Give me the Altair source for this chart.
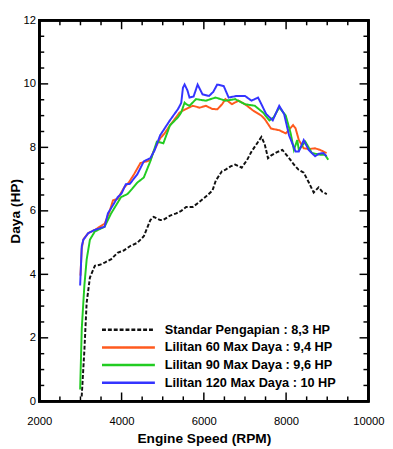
import altair as alt
import pandas as pd

series_names = [
    "Standar Pengapian : 8,3 HP",
    "Lilitan 60 Max Daya : 9,4 HP",
    "Lilitan 90 Max Daya : 9,6 HP",
    "Lilitan 120 Max Daya : 10 HP",
]
series_colors = ["#111111", "#FF5A1E", "#22CC22", "#3434FF"]
series_dashes = [[4, 2], [1, 0], [1, 0], [1, 0]]

rpm_std = [3030, 3095, 3150, 3230, 3350, 3470, 3590, 3750, 3900, 4050, 4220, 4380, 4540, 4700, 4780,
           4940, 5020, 5180, 5330, 5450, 5570, 5730, 5890, 6050, 6210, 6290, 6440, 6530, 6650, 6760,
           6920, 7050, 7160, 7280, 7400, 7480, 7560, 7640, 7780, 7910, 8050, 8190, 8300, 8430, 8550,
           8670, 8790, 8880, 8990]
hp_std = [0.15, 1.6, 3.1, 3.9, 4.27, 4.3, 4.37, 4.48, 4.68, 4.75, 4.9, 4.99, 5.2, 5.71, 5.81,
          5.71, 5.72, 5.85, 5.92, 6.0, 6.12, 6.12, 6.28, 6.45, 6.64, 6.95, 7.25, 7.3, 7.4, 7.46,
          7.36, 7.6, 7.87, 8.1, 8.33, 8.1, 7.66, 7.75, 7.85, 7.92, 7.7, 7.46, 7.3, 7.2, 6.9,
          6.58, 6.74, 6.6, 6.53]

rpm_60 = [3000, 3030, 3070, 3190, 3350, 3590, 3700, 3790, 3905, 4064, 4180, 4302, 4460, 4619, 4700,
          4778, 4937, 5050, 5175, 5413, 5492, 5570, 5730, 5900, 6048, 6206, 6330, 6444, 6524, 6683,
          6841, 7000, 7198, 7397, 7476, 7635, 7833, 7992, 8170, 8230, 8310, 8429, 8560, 8706, 8825,
          8984]
hp_60 = [3.96, 4.8, 5.1, 5.3, 5.4, 5.6, 5.95, 6.33, 6.38, 6.74, 6.9, 7.15, 7.51, 7.56, 7.6,
         7.87, 8.28, 8.45, 8.69, 9.1, 9.16, 9.21, 9.31, 9.25, 9.31, 9.21, 9.2, 9.36, 9.52, 9.36,
         9.47, 9.36, 9.16, 9.0, 8.9, 8.59, 8.54, 8.44, 8.7, 8.6, 8.23, 7.97, 7.95, 7.97, 7.92,
         7.82]

rpm_90 = [2992, 3032, 3095, 3151, 3230, 3349, 3587, 3746, 3984, 4143, 4260, 4381, 4540, 4698, 4857,
          5016, 5175, 5373, 5450, 5532, 5571, 5651, 5810, 6048, 6286, 6524, 6762, 7000, 7238, 7436,
          7595, 7700, 7833, 7992, 8111, 8190, 8270, 8310, 8468, 8627, 8825, 8944, 9024]
hp_90 = [0.37, 2.3, 3.65, 4.47, 5.09, 5.35, 5.5, 5.92, 6.43, 6.53, 6.7, 6.89, 7.05, 7.56, 8.18,
         8.13, 8.69, 8.95, 9.1, 9.41, 9.36, 9.31, 9.52, 9.47, 9.57, 9.47, 9.52, 9.36, 9.31, 9.1,
         8.85, 8.95, 9.26, 9.0, 8.44, 7.92, 8.23, 7.92, 8.18, 7.82, 7.77, 7.77, 7.61]

rpm_120 = [2992, 3032, 3071, 3190, 3349, 3587, 3667, 3800, 3905, 4000, 4103, 4200, 4381, 4540, 4698,
           4800, 4937, 5175, 5373, 5450, 5492, 5532, 5600, 5651, 5750, 5849, 5968, 6127, 6230, 6325,
           6484, 6603, 6802, 7000, 7159, 7317, 7357, 7516, 7675, 7833, 7952, 8071, 8230, 8310, 8429,
           8548, 8706, 8800, 8905, 8984]
hp_120 = [3.65, 4.89, 5.09, 5.3, 5.4, 5.5, 5.92, 6.2, 6.43, 6.55, 6.84, 6.85, 7.15, 7.56, 7.66,
          7.9, 8.38, 8.85, 9.21, 9.4, 9.88, 9.98, 9.8, 9.57, 9.6, 9.98, 9.67, 9.62, 9.75, 9.98,
          9.93, 9.57, 9.62, 9.62, 9.47, 9.57, 9.47, 9.05, 8.85, 9.31, 9.05, 8.38, 7.87, 7.87, 8.23,
          7.92, 7.72, 7.8, 7.82, 7.72]

x_major = [2000, 4000, 6000, 8000, 10000]
x_minor = [2500, 3000, 3500, 4500, 5000, 5500, 6500, 7000, 7500, 8500, 9000, 9500]
y_major = [0, 2, 4, 6, 8, 10, 12]
y_minor = [0.5, 1, 1.5, 2.5, 3, 3.5, 4.5, 5, 5.5, 6.5, 7, 7.5, 8.5, 9, 9.5, 10.5, 11, 11.5]

W, H = 336, 389
FONT = "Liberation Sans, Arial, sans-serif"

rows = []
for name, xs_, ys_ in zip(series_names, [rpm_std, rpm_60, rpm_90, rpm_120],
                          [hp_std, hp_60, hp_90, hp_120]):
    for i, (a, b) in enumerate(zip(xs_, ys_)):
        rows.append({"series": name, "rpm": a, "hp": b, "order": i})
df = pd.DataFrame(rows)
legend_df = pd.DataFrame({"series": series_names, "row": list(range(len(series_names)))})

xs = alt.Scale(domain=[2000, 10000], nice=False)
ys = alt.Scale(domain=[0, 12], nice=False)
color_scale = alt.Scale(domain=series_names, range=series_colors)
dash_scale = alt.Scale(domain=series_names, range=series_dashes)

x_axis = alt.Axis(title="Engine Speed (RPM)", values=x_major, format="d",
                  ticks=False, domain=False, grid=False, labelPadding=15, labelFlush=False,
                  labelFontSize=11.5, labelFont=FONT, labelColor="black",
                  titleFont=FONT, titleFontSize=14, titleFontWeight="bold",
                  titleColor="black", titlePadding=5)

lines = alt.Chart(df).mark_line(strokeWidth=2, clip=True).encode(
    x=alt.X("rpm:Q", scale=xs, axis=x_axis),
    y=alt.Y("hp:Q", scale=ys,
            axis=alt.Axis(title="Daya (HP)", values=y_major, ticks=False, domain=False,
                          grid=False, labelPadding=4, labelFlush=False, labelFontSize=11.5,
                          labelFont=FONT, labelColor="black", titleFont=FONT,
                          titleFontSize=14, titleFontWeight="bold", titleColor="black",
                          titlePadding=0)),
    color=alt.Color("series:N", scale=color_scale, legend=None),
    strokeDash=alt.StrokeDash("series:N", scale=dash_scale, legend=None),
    order="order:Q",
)

# legend drawn as its own small layer (rows laid out by an independent y scale)
leg_y = alt.Y("row:Q", scale=alt.Scale(domain=[0, 3], range=[316, 370]), axis=None)
leg_lines = alt.Chart(legend_df).mark_rule(strokeWidth=2.5).encode(
    y=leg_y, x=alt.value(64), x2=alt.value(118),
    color=alt.Color("series:N", scale=color_scale, legend=None),
    strokeDash=alt.StrokeDash("series:N", scale=dash_scale, legend=None),
)
leg_text = alt.Chart(legend_df).mark_text(
    align="left", baseline="middle", font=FONT, fontSize=13, fontWeight="bold",
    color="black").encode(y=leg_y, x=alt.value(128), text="series:N")

# plot frame
frame = alt.Chart(legend_df).mark_rect(fill=None, stroke="black", strokeWidth=2.5).encode(
    x=alt.value(0), x2=alt.value(W), y=alt.value(0), y2=alt.value(H))

xmaj = pd.DataFrame({"v": x_major})
xmin = pd.DataFrame({"v": x_minor})
ymaj = pd.DataFrame({"v": y_major})
ymin = pd.DataFrame({"v": y_minor})

def xticks(d, L):
    b = alt.Chart(d).mark_rule(color="black", strokeWidth=1.5).encode(
        x=alt.X("v:Q", scale=xs, axis=x_axis), y=alt.value(H), y2=alt.value(H - L))
    t = alt.Chart(d).mark_rule(color="black", strokeWidth=1.5).encode(
        x=alt.X("v:Q", scale=xs, axis=x_axis), y=alt.value(0), y2=alt.value(L))
    return [b, t]

def yticks(d, L):
    l = alt.Chart(d).mark_rule(color="black", strokeWidth=1.5).encode(
        y=alt.Y("v:Q", scale=ys, axis=None), x=alt.value(0), x2=alt.value(L))
    r = alt.Chart(d).mark_rule(color="black", strokeWidth=1.5).encode(
        y=alt.Y("v:Q", scale=ys, axis=None), x=alt.value(W), x2=alt.value(W - L))
    return [l, r]

layers = xticks(xmaj, 9) + xticks(xmin, 5) + yticks(ymaj, 9) + yticks(ymin, 5) + \
    [lines, leg_lines, leg_text, frame]

chart = alt.layer(*layers).resolve_scale(y="independent").properties(
    width=W, height=H,
    autosize=alt.AutoSizeParams(type="none"),
    padding={"left": 32, "top": 8, "right": 17, "bottom": 42},
).configure_view(stroke="black", strokeWidth=2.5).configure(background="white")

chart.save("out.html", embed_options={"renderer": "svg", "actions": False})
